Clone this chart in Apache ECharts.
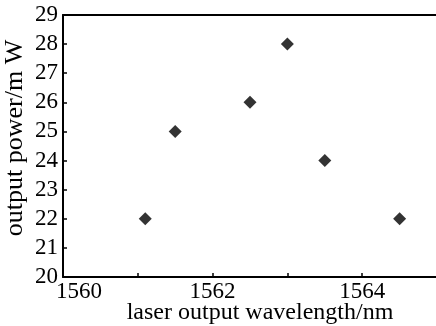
<!DOCTYPE html>
<html><head><meta charset="utf-8">
<script src="https://cdn.jsdelivr.net/npm/echarts@6/dist/echarts.min.js"></script>
<style>html,body{margin:0;padding:0;background:#fff}#c{width:436px;height:326px}</style>
</head><body><div id="c"></div>
<script>
const wavelength = [1561.1, 1561.5, 1562.5, 1563.0, 1563.5, 1564.5];
const power = [22, 25, 26, 28, 24, 22];
const xName = 'laser output wavelength/nm';
const yName = 'output power/m W';
const FONT = '"Liberation Serif", "DejaVu Serif", serif';

const chart = echarts.init(document.getElementById('c'), null, {renderer: 'canvas'});
chart.setOption({
  animation: false,
  backgroundColor: '#fff',
  grid: {left: 63, right: -1, top: 15, bottom: 49, show: false, containLabel: false, outerBoundsMode: 'none'},
  xAxis: [{
    type: 'value', min: 1560, max: 1565, interval: 1,
    name: xName, nameLocation: 'middle', nameGap: 24, nameMoveOverlap: false,
    nameTextStyle: {fontFamily: FONT, fontSize: 24, color: '#000', padding: [0, 0, 0, 20]},
    axisLine: {show: true, lineStyle: {color: '#000', width: 2}},
    axisTick: {show: true, inside: true, length: 4, lineStyle: {color: '#000', width: 1.5}},
    axisLabel: {fontFamily: FONT, fontSize: 23, color: '#000', margin: 3,
      formatter: v => (v === 1560 ? '{m|' + v + '}' : (v % 2 === 0 ? String(v) : '')),
      rich: {m: {fontFamily: FONT, fontSize: 23, color: '#000', padding: [0, 0, 0, 32]}}},
    splitLine: {show: false}
  }, {
    type: 'value', position: 'top', min: 1560, max: 1565,
    axisLine: {show: true, lineStyle: {color: '#000', width: 2}},
    axisTick: {show: false}, axisLabel: {show: false}, splitLine: {show: false}
  }],
  yAxis: {
    type: 'value', min: 20, max: 29, interval: 1,
    name: yName, nameLocation: 'middle', nameGap: 35, nameMoveOverlap: false,
    nameTextStyle: {fontFamily: FONT, fontSize: 26, color: '#000', padding: [0, 0, 0, 16]},
    axisLine: {show: true, lineStyle: {color: '#000', width: 2}},
    axisTick: {show: true, inside: true, length: 4, lineStyle: {color: '#000', width: 1.5}},
    axisLabel: {fontFamily: FONT, fontSize: 23, color: '#000', margin: 5},
    splitLine: {show: false}
  },
  series: [{
    type: 'scatter',
    data: wavelength.map((x, i) => [x, power[i]]),
    symbol: 'diamond', symbolSize: 13,
    itemStyle: {color: '#000'}
  }]
});
</script></body></html>
